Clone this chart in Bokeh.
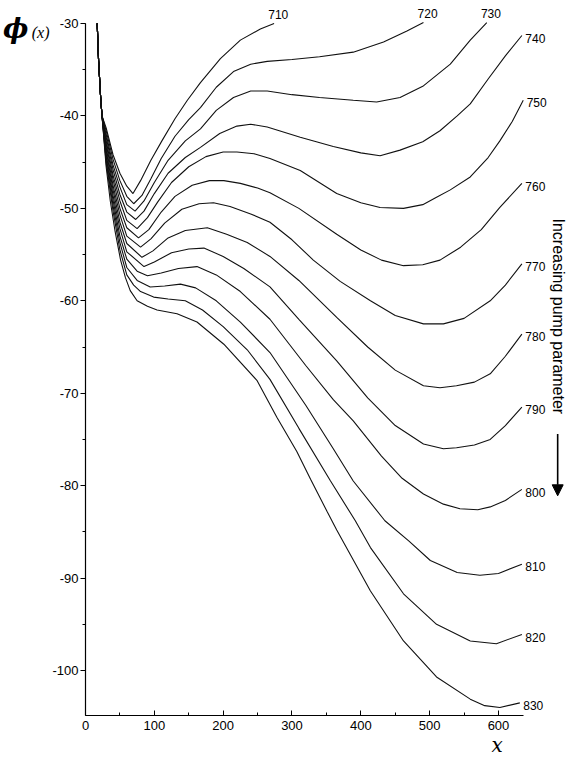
import math
from bokeh.plotting import figure
from bokeh.models import (Range1d, SingleIntervalTicker, FixedTicker, LinearAxis, Label, Arrow,
                          NormalHead, ColumnDataSource, PrintfTickFormatter)
from bokeh.embed import file_html
from bokeh.resources import INLINE
from bokeh.core.properties import value

# ---------------- data ----------------
pump_values = [710, 720, 730, 740, 750, 760, 770, 780, 790, 800, 810, 820, 830]

x_710 = [17, 19, 22, 24, 30, 40, 50, 60, 69, 80, 95, 111, 130, 148, 167, 196, 225, 254, 274]
phi_710 = [-30, -34, -38, -40, -41.3, -44.2, -46.2, -47.6, -48.4, -47.0, -44.8, -42.7, -40.3, -38.3, -36.4, -33.8, -31.8, -30.6, -30.0]

x_720 = [17, 19, 22, 24, 30, 40, 50, 60, 70, 82, 95, 110, 130, 150, 167, 190, 215, 240, 264, 300, 340, 389, 433, 467, 491]
phi_720 = [-30, -34, -38, -40, -41.6, -44.7, -47.0, -48.7, -49.5, -48.6, -46.8, -44.6, -42.2, -40.4, -39.1, -36.9, -35.2, -34.4, -34.1, -33.9, -33.6, -33.1, -32.0, -30.8, -29.9]

x_730 = [17, 19, 22, 24, 30, 40, 50, 60, 72, 85, 100, 120, 145, 167, 190, 215, 240, 264, 300, 340, 389, 423, 457, 490, 530, 559, 583]
phi_730 = [-30, -34, -38, -40, -42.0, -45.3, -47.7, -49.6, -50.3, -49.2, -47.2, -44.8, -42.7, -41.4, -39.4, -38.0, -37.3, -37.3, -37.7, -38.0, -38.3, -38.5, -38.0, -36.8, -34.4, -31.8, -29.9]

x_740 = [17, 19, 22, 24, 30, 40, 50, 60, 73, 85, 100, 120, 145, 167, 195, 220, 240, 264, 312, 360, 400, 428, 457, 490, 515, 540, 559, 585, 610, 634]
phi_740 = [-30, -34, -38, -40, -42.3, -45.8, -48.5, -50.4, -51.2, -50.3, -48.4, -46.2, -44.5, -43.4, -41.9, -41.1, -40.9, -41.2, -42.3, -43.3, -44.0, -44.3, -43.7, -42.8, -41.6, -40.0, -38.7, -36.0, -33.5, -31.3]

x_750 = [17, 19, 22, 24, 30, 40, 50, 60, 75, 90, 105, 125, 150, 175, 200, 220, 245, 268, 312, 365, 400, 428, 462, 490, 510, 530, 559, 585, 602, 620, 636]
phi_750 = [-30, -34, -38, -40, -42.7, -46.4, -49.2, -51.3, -52.2, -51.0, -49.3, -47.2, -45.5, -44.4, -43.9, -43.9, -44.1, -44.6, -45.9, -48.4, -49.4, -49.9, -50.0, -49.6, -48.8, -48.0, -46.6, -44.5, -42.7, -40.6, -38.3]

x_760 = [17, 19, 22, 24, 30, 40, 50, 60, 77, 92, 110, 130, 155, 180, 201, 225, 250, 268, 310, 365, 400, 430, 462, 490, 515, 545, 575, 602, 634]
phi_760 = [-30, -34, -38, -40, -43.0, -46.9, -50.0, -52.1, -53.2, -52.3, -50.4, -48.7, -47.5, -47.0, -47.0, -47.3, -47.8, -48.3, -50.0, -52.8, -54.5, -55.6, -56.2, -56.1, -55.6, -54.2, -52.3, -49.9, -47.3]

x_770 = [17, 19, 22, 24, 30, 40, 50, 60, 80, 95, 115, 140, 165, 186, 210, 240, 268, 300, 331, 370, 414, 450, 491, 520, 550, 588, 610, 634]
phi_770 = [-30, -34, -38, -40, -43.4, -47.5, -50.7, -53.0, -54.2, -53.3, -51.6, -50.1, -49.5, -49.4, -49.8, -50.6, -51.5, -53.4, -55.6, -57.9, -60.0, -61.6, -62.5, -62.5, -61.9, -60.0, -58.3, -56.0]

x_780 = [17, 19, 22, 24, 30, 40, 50, 60, 82, 98, 120, 145, 177, 205, 235, 268, 310, 365, 410, 450, 491, 515, 539, 565, 588, 610, 634]
phi_780 = [-30, -34, -38, -40, -43.7, -48.0, -51.5, -53.8, -55.3, -54.6, -53.2, -52.4, -52.1, -52.8, -53.7, -55.2, -57.8, -61.8, -65.0, -67.5, -69.2, -69.4, -69.2, -68.8, -67.9, -66.0, -63.6]

x_790 = [17, 19, 22, 24, 30, 40, 50, 60, 85, 100, 125, 150, 172, 200, 230, 268, 310, 365, 410, 450, 491, 520, 539, 565, 588, 610, 634]
phi_790 = [-30, -34, -38, -40, -44.1, -48.6, -52.2, -54.7, -56.3, -55.8, -54.8, -54.4, -54.3, -55.2, -56.5, -58.5, -62.0, -66.5, -70.5, -73.5, -75.5, -76.0, -75.9, -75.6, -75.0, -73.5, -71.5]

x_800 = [17, 19, 22, 24, 30, 40, 50, 60, 75, 90, 110, 135, 162, 190, 225, 268, 320, 360, 389, 430, 460, 491, 520, 544, 570, 588, 610, 634]
phi_800 = [-30, -34, -38, -40, -44.4, -49.1, -53.0, -55.5, -56.8, -57.3, -57.0, -56.5, -56.3, -57.2, -59.0, -62.0, -67.0, -70.7, -73.0, -76.8, -79.2, -80.9, -82.0, -82.5, -82.6, -82.3, -81.6, -80.4]

x_810 = [17, 19, 22, 24, 30, 40, 50, 60, 75, 94, 115, 138, 160, 190, 225, 268, 320, 360, 389, 435, 470, 501, 540, 573, 600, 634]
phi_810 = [-30, -34, -38, -40, -44.8, -49.7, -53.7, -56.4, -57.8, -58.5, -58.4, -58.2, -58.6, -60.0, -62.3, -65.6, -71.3, -76.0, -79.5, -83.8, -86.0, -88.1, -89.4, -89.7, -89.5, -88.5]

x_820 = [17, 19, 22, 24, 30, 40, 50, 60, 70, 80, 99, 120, 145, 170, 200, 235, 268, 310, 356, 392, 414, 462, 510, 559, 597, 634]
phi_820 = [-30, -34, -38, -40, -45.1, -50.3, -54.5, -57.2, -58.3, -59.0, -59.6, -59.8, -60.0, -61.0, -62.8, -65.3, -68.5, -73.8, -79.5, -83.8, -86.7, -91.7, -95.0, -96.8, -97.1, -96.1]

x_830 = [17, 19, 22, 24, 30, 36, 43, 51, 58, 65, 75, 90, 104, 133, 162, 201, 249, 278, 307, 327, 351, 365, 414, 462, 510, 559, 580, 602, 631]
phi_830 = [-30, -34, -38, -40, -45.5, -49.2, -52.5, -55.6, -57.5, -58.9, -60.0, -60.6, -61.0, -61.4, -62.3, -64.7, -68.6, -72.6, -76.3, -79.3, -82.8, -84.8, -91.4, -96.8, -100.7, -103.1, -103.8, -104.0, -103.5]

x_tick_interval = 100
y_tick_interval = 10
y_title_main = "ϕ"
y_title_sub = "(x)"
x_title = "x"
pump_note = "Increasing pump parameter"

curves = [
    (710, x_710, phi_710), (720, x_720, phi_720), (730, x_730, phi_730),
    (740, x_740, phi_740), (750, x_750, phi_750), (760, x_760, phi_760),
    (770, x_770, phi_770), (780, x_780, phi_780), (790, x_790, phi_790),
    (800, x_800, phi_800), (810, x_810, phi_810), (820, x_820, phi_820),
    (830, x_830, phi_830),
]

# ---------------- layout ----------------
PX_PER_X = 0.6883
PX_PER_Y = 9.243
FRAME_W, FRAME_H = 481, 715
x_end = FRAME_W / PX_PER_X
y_top = -30 + 23 / PX_PER_Y
y_bot = y_top - FRAME_H / PX_PER_Y

p = figure(frame_width=FRAME_W, frame_height=FRAME_H,
           x_range=Range1d(0, x_end), y_range=Range1d(y_bot, y_top),
           output_backend="svg", toolbar_location=None,
           min_border_left=85, min_border_right=0, min_border_top=0, min_border_bottom=20)
p.xgrid.visible = False
p.ygrid.visible = False
p.outline_line_color = None
p.background_fill_color = "white"
p.border_fill_color = "white"

xa = p.xaxis[0]
xa.ticker = SingleIntervalTicker(interval=x_tick_interval, num_minor_ticks=2)
xa.bounds = (0, 636)
xa.major_tick_in = 5
xa.major_tick_out = 0
xa.minor_tick_in = 3
xa.minor_tick_out = 0
xa.major_label_standoff = 5
xa.axis_line_width = 1.2
xa.axis_line_color = "black"
xa.major_tick_line_color = "black"
xa.minor_tick_line_color = "black"
xa.major_label_text_font = "Liberation Sans"
xa.major_label_text_font_size = "13px"
xa.major_label_text_color = "black"

ya = p.yaxis[0]
ya.ticker = SingleIntervalTicker(interval=y_tick_interval, num_minor_ticks=2)
ya.formatter = PrintfTickFormatter(format="%d")
ya.bounds = (y_bot, -30)
ya.major_tick_in = 0
ya.major_tick_out = 5
ya.minor_tick_in = 0
ya.minor_tick_out = 3
ya.major_label_standoff = 2
ya.axis_line_width = 1.2
ya.axis_line_color = "black"
ya.major_tick_line_color = "black"
ya.minor_tick_line_color = "black"
ya.major_label_text_font = "Liberation Sans"
ya.major_label_text_font_size = "13px"
ya.major_label_text_color = "black"


def title_axis(tick, text, font, style, size, standoff=0):
    ax = LinearAxis(ticker=FixedTicker(ticks=[tick]), major_label_overrides={tick: text})
    ax.axis_line_color = None
    ax.major_tick_line_color = None
    ax.minor_tick_line_color = None
    ax.major_tick_in = 0
    ax.major_tick_out = 0
    ax.minor_tick_in = 0
    ax.minor_tick_out = 0
    ax.major_label_standoff = standoff
    ax.major_label_text_font = font
    ax.major_label_text_font_style = style
    ax.major_label_text_font_size = size
    ax.major_label_text_color = "black"
    return ax


# y title "ϕ(x)" next to the top tick label, x title under the 600 tick
p.add_layout(title_axis(-31, y_title_sub, "Liberation Serif", "italic", "16px"), "left")
p.add_layout(title_axis(-30.5, y_title_main, "DejaVu Serif", "bold italic", "27px"), "left")
p.add_layout(title_axis(598, x_title, "DejaVu Serif", "italic", "20px"), "below")

for pv, xs, ys in curves:
    p.line(xs, ys, line_color="#111111", line_width=1.1)

# curve labels
top_src = ColumnDataSource(dict(
    x=[c[1][-1] + 6 for c in curves if c[0] <= 730],
    y=[c[2][-1] + 0.5 for c in curves if c[0] <= 730],
    t=[str(c[0]) for c in curves if c[0] <= 730]))
side_src = ColumnDataSource(dict(
    x=[c[1][-1] + 5 for c in curves if c[0] > 730],
    y=[c[2][-1] - 0.3 for c in curves if c[0] > 730],
    t=[str(c[0]) for c in curves if c[0] > 730]))
p.text(x="x", y="y", text="t", source=top_src, text_align="center", text_baseline="bottom",
       text_font=value("Liberation Sans"), text_font_size="12px", text_color="black")
p.text(x="x", y="y", text="t", source=side_src, text_align="left", text_baseline="middle",
       text_font=value("Liberation Sans"), text_font_size="12px", text_color="black")

# pump parameter annotation
p.add_layout(Label(x=687, y=-51.1, text=pump_note, angle=-math.pi / 2,
                   text_font="Liberation Sans", text_font_size="16px", text_align="left",
                   text_baseline="middle", text_color="black"))
p.add_layout(Arrow(end=NormalHead(size=11, fill_color="black", line_color="black"),
                   x_start=686, y_start=-74.4, x_end=686, y_end=-81.1,
                   line_width=1.6, line_color="black"))

open("out.html", "w").write(file_html(p, INLINE))
